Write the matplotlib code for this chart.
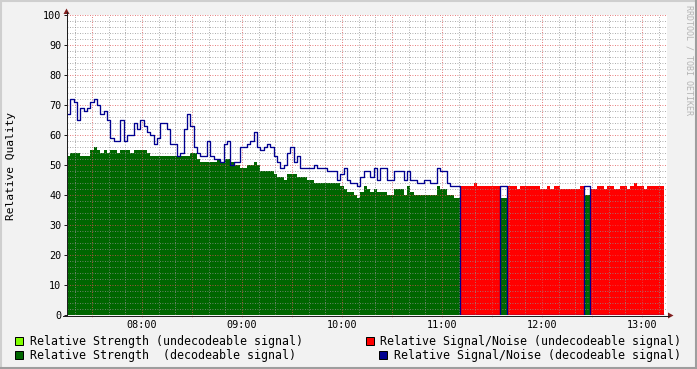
import numpy as np
import matplotlib
matplotlib.use("Agg")
import matplotlib.pyplot as plt
from matplotlib.patches import Rectangle, Polygon
from matplotlib.lines import Line2D
from matplotlib.ticker import MultipleLocator, FixedLocator, FuncFormatter

W, H = 697, 369

# samples every 2 minutes starting at 07:15
start_minute = 7 * 60 + 15
step_minutes = 2

snr = [67, 72, 71, 65, 69, 68, 69, 71, 72, 70,
       67, 68, 65, 59, 58, 58, 65, 58, 60, 60,
       64, 62, 65, 63, 61, 60, 57, 59, 64, 64,
       62, 57, 57, 53, 54, 62, 67, 63, 56, 54,
       53, 53, 58, 53, 52, 52, 51, 57, 58, 50,
       51, 51, 56, 56, 57, 58, 61, 56, 55, 56,
       57, 56, 53, 51, 49, 50, 54, 56, 51, 53,
       49, 49, 49, 49, 50, 49, 49, 49, 48, 48,
       48, 45, 47, 49, 45, 44, 44, 43, 46, 48,
       48, 46, 49, 45, 49, 49, 45, 45, 48, 48,
       48, 45, 48, 45, 45, 44, 44, 45, 45, 44,
       44, 49, 48, 48, 44, 43, 43, 43, 43, 43,
       43, 43, 44, 43, 43, 43, 43, 43, 43, 43,
       43, 43, 43, 43, 43, 42, 43, 43, 43, 43,
       43, 43, 42, 42, 43, 42, 43, 43, 42, 42,
       42, 42, 42, 42, 43, 43, 43, 42, 42, 43,
       43, 42, 43, 43, 42, 42, 43, 43, 42, 43,
       44, 43, 43, 42, 43, 43, 43, 43, 43]

strength = [53, 54, 54, 54, 53, 53, 53, 55, 56, 55,
            54, 55, 54, 55, 55, 54, 55, 55, 55, 54,
            55, 55, 55, 55, 54, 53, 53, 53, 53, 53,
            53, 53, 53, 53, 53, 53, 53, 54, 54, 52,
            51, 51, 51, 51, 51, 52, 51, 52, 52, 51,
            50, 50, 49, 49, 50, 50, 51, 50, 48, 48,
            48, 48, 47, 46, 46, 45, 47, 47, 47, 46,
            46, 46, 45, 45, 44, 44, 44, 44, 44, 44,
            44, 44, 43, 42, 41, 41, 40, 39, 41, 43,
            42, 41, 42, 41, 41, 41, 40, 40, 42, 42,
            42, 40, 43, 41, 40, 40, 40, 40, 40, 40,
            40, 43, 42, 42, 40, 40, 39, 39, 39, 39,
            39, 39, 39, 39, 39, 39, 39, 39, 39, 39,
            39, 39, 39, 39, 39, 39, 40, 40, 40, 40,
            40, 40, 40, 40, 40, 40, 40, 40, 40, 40,
            40, 40, 40, 40, 40, 40, 40, 40, 40, 40,
            40, 40, 40, 40, 40, 40, 40, 40, 40, 40,
            40, 40, 40, 40, 40, 40, 40, 40, 40]

# sample index ranges where the signal could not be decoded
undecodable_spans = [(118, 130), (132, 155), (157, 179)]

legend_labels = ["Relative Strength (undecodeable signal)",
                 "Relative Signal/Noise (undecodeable signal)",
                 "Relative Strength  (decodeable signal)",
                 "Relative Signal/Noise (decodeable signal)"]
legend_colors = ["#80FF00", "#FF0000", "#006600", "#000090"]

# rrdtool default colours
BACK = "#F2F2F2"
SHADE_A = "#CFCFCF"
SHADE_B = "#9E9E9E"
GRID = (0.56, 0.56, 0.56, 0.38)
MGRID = (0.87, 0.31, 0.31, 0.38)
ARROW = (0.5, 0.12, 0.12)
AXIS = (0.12, 0.12, 0.12)
MONO = "DejaVu Sans Mono"

snr = np.array(snr, float)
strength = np.array(strength, float)
n = len(snr)
t = start_minute + step_minutes * np.arange(n + 1)
dec = np.ones(n, bool)
for a, b in undecodable_spans:
    dec[a:b] = False


def edges(v):
    return np.append(v, v[-1])


def fx(x):
    return x / W


def fy(y):
    return 1 - y / H


fig = plt.figure(figsize=(W / 100, H / 100), dpi=100, facecolor=BACK)
ax = fig.add_axes([fx(67), fy(315), 600 / W, 300 / H])
ax.set_facecolor("white")

ax.fill_between(t, 0, edges(np.where(~dec, strength, 0)), step="post",
                color=legend_colors[0], lw=0, zorder=1)
ax.fill_between(t, 0, edges(np.where(dec, strength, 0)), step="post",
                color=legend_colors[2], lw=0, zorder=1.1)
ax.fill_between(t, 0, edges(np.where(~dec, snr, 0)), step="post",
                color=legend_colors[1], lw=0, zorder=1.2)
ax.step(t, edges(np.where(dec, snr, 0)), where="post",
        color=legend_colors[3], lw=0.95, zorder=3)

ax.set_xlim(start_minute, start_minute + 360)
ax.set_ylim(0, 100)

ax.xaxis.set_major_locator(FixedLocator(list(range(450, 795, 30))))
ax.xaxis.set_minor_locator(MultipleLocator(10))
ax.xaxis.set_major_formatter(FuncFormatter(
    lambda v, p: "%02d:00" % (v // 60) if v % 60 == 0 else ""))
ax.yaxis.set_major_locator(MultipleLocator(10))
ax.yaxis.set_minor_locator(MultipleLocator(2))

ax.set_axisbelow(False)
ax.grid(which="major", color=MGRID, ls=(0, (1, 2)), lw=0.6)
ax.grid(which="minor", color=GRID, ls=(0, (1, 2)), lw=0.6)

for s in ax.spines.values():
    s.set_visible(False)
ax.tick_params(which="minor", length=0)
ax.tick_params(axis="y", which="major", length=2.2, width=0.72, color=AXIS,
               pad=1.8, labelsize=7.3)
ax.tick_params(axis="x", which="major", length=1.5, width=0.72, color=MGRID,
               pad=2.2, labelsize=7.3)
for lab in ax.get_xticklabels() + ax.get_yticklabels():
    lab.set_fontfamily(MONO)

# axes with arrows
fig.add_artist(Line2D([fx(66.5), fx(66.5)], [fy(315.5), fy(12)], color=AXIS, lw=0.72))
fig.add_artist(Line2D([fx(63), fx(669)], [fy(315.5), fy(315.5)], color=AXIS, lw=0.72))
fig.add_artist(Polygon([(fx(63.5), fy(14)), (fx(69.5), fy(14)), (fx(66.5), fy(8.5))],
                       closed=True, color=ARROW, lw=0))
fig.add_artist(Polygon([(fx(668), fy(312.5)), (fx(668), fy(318.5)), (fx(673.5), fy(315.5))],
                       closed=True, color=ARROW, lw=0))

fig.text(fx(11), fy(166), "Relative Quality", rotation=90, ha="center", va="center",
         fontsize=8.1, family=MONO)
fig.text(fx(688.5), fy(5), "RRDTOOL / TOBI OETIKER", rotation=270, ha="center", va="top",
         fontsize=6, family=MONO, color="#B4B4B4")

# legend
box_x = [15, 366, 15, 379]
text_x = [30, 380, 30, 394]
row_y = [341, 341, 355, 355]
for lab, col, bx, tx, ry in zip(legend_labels, legend_colors, box_x, text_x, row_y):
    fig.add_artist(Rectangle((fx(bx), fy(ry + 4)), 8 / W, 8 / H, facecolor=col,
                             edgecolor="black", lw=0.72))
    fig.text(fx(tx), fy(ry), lab, ha="left", va="center", fontsize=8.4, family=MONO)

# 3d frame
fig.add_artist(Line2D([0, 1], [fy(0.5), fy(0.5)], color=SHADE_A, lw=1.5))
fig.add_artist(Line2D([fx(0.5), fx(0.5)], [0, 1], color=SHADE_A, lw=1.5))
fig.add_artist(Line2D([0, 1], [fy(368), fy(368)], color=SHADE_B, lw=1.5))
fig.add_artist(Line2D([fx(696), fx(696)], [0, 1], color=SHADE_B, lw=1.5))

fig.savefig("out.png", dpi=100, facecolor=BACK)
